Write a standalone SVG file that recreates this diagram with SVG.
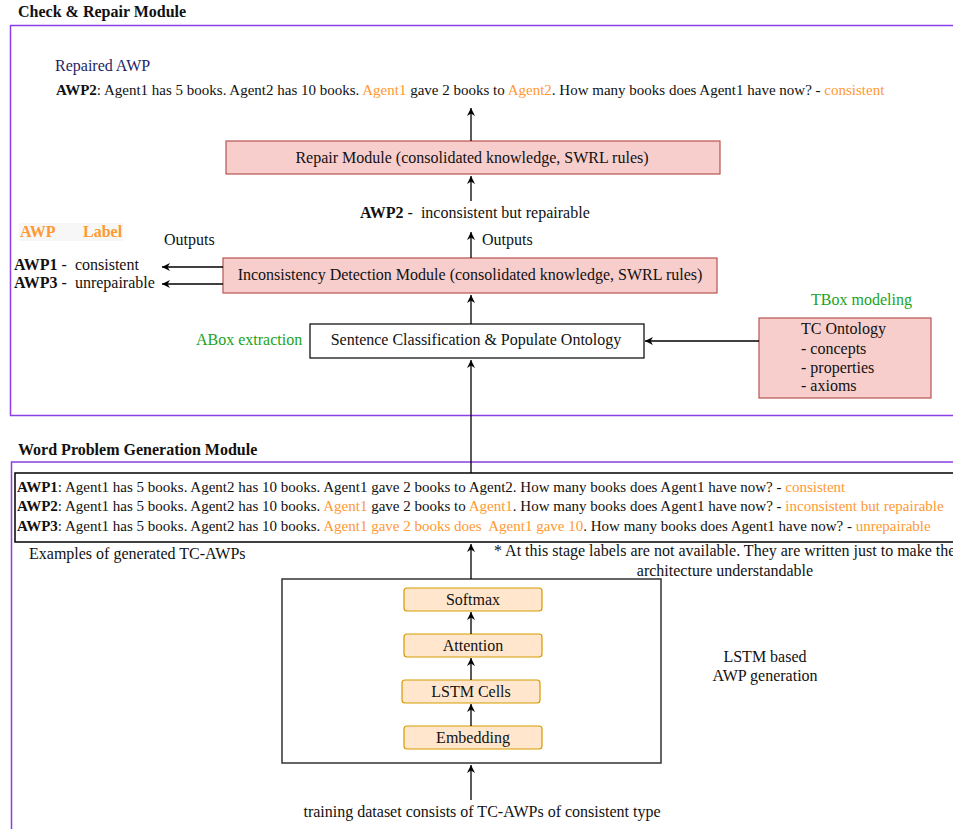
<svg xmlns="http://www.w3.org/2000/svg" width="953" height="829" viewBox="0 0 953 829">
<defs>
<marker id="arr" markerWidth="10" markerHeight="10" refX="9" refY="5" orient="auto" markerUnits="userSpaceOnUse">
<path d="M1,1 L9,5 L1,9 L3.5,5 Z" fill="#000"/>
</marker>
<style>
text{font-family:"Liberation Serif","Times New Roman",serif;font-size:16px;fill:#111}
.b{font-weight:bold}
.o{fill:#ff9933}
.g{fill:#1aa31a}
.t{font-size:16px;font-weight:bold}
.s{font-size:15px}
.pink{fill:#f8cecc;stroke:#b85450;stroke-width:1.2}
.orange{fill:#ffe6cc;stroke:#d79b00;stroke-width:1.2}
.frame{fill:none;stroke:#8b3fe6;stroke-width:1.5}
.c{stroke:#000;stroke-width:1.3;fill:none;marker-end:url(#arr)}
.m{text-anchor:middle}
</style>
</defs>

<g id="frames">
<text class="t" x="18" y="17">Check &amp; Repair Module</text>
<rect class="frame" x="10.5" y="25.5" width="960" height="390"/>
<text class="t" x="18" y="455">Word Problem Generation Module</text>
<rect class="frame" x="11.5" y="462" width="960" height="400"/>
</g>

<g id="repaired">
<text x="55" y="71" style="fill:#1f1f66">Repaired AWP</text>
<text x="56" y="95" class="s"><tspan class="b">AWP2</tspan>: Agent1 has 5 books. Agent2 has 10 books. <tspan class="o">Agent1</tspan> gave 2 books to <tspan class="o">Agent2</tspan>. How many books does Agent1 have now? - <tspan class="o">consistent</tspan></text>
</g>

<g id="repair">
<rect class="pink" x="226" y="141" width="494" height="33"/>
<text class="m" x="472" y="163">Repair Module (consolidated knowledge, SWRL rules)</text>
</g>

<g id="awp2label">
<text x="360" y="218"><tspan class="b">AWP2</tspan> -&#160; inconsistent but repairable</text>
<text x="482" y="245">Outputs</text>
</g>

<g id="detection">
<rect class="pink" x="223" y="258" width="494" height="35"/>
<text class="m" x="470" y="280">Inconsistency Detection Module (consolidated knowledge, SWRL rules)</text>
</g>

<g id="legend">
<rect x="19" y="223" width="104" height="18" fill="#f7f7f7"/>
<text class="b o" x="20" y="237">AWP</text>
<text class="b o" x="83" y="237">Label</text>
<text x="164" y="245">Outputs</text>
<text x="14" y="270"><tspan class="b">AWP1</tspan> -&#160; consistent</text>
<text x="14" y="288"><tspan class="b">AWP3</tspan> -&#160; unrepairable</text>
</g>

<g id="sentence">
<text class="g" x="196" y="345">ABox extraction</text>
<rect x="310" y="324" width="334" height="34" fill="#fff" stroke="#000" stroke-width="1.2"/>
<text class="m" x="476" y="345">Sentence Classification &amp; Populate Ontology</text>
</g>

<g id="ontology">
<text class="g" x="811" y="305">TBox modeling</text>
<rect class="pink" x="759" y="318" width="172" height="80"/>
<text x="801" y="334">TC Ontology</text>
<text x="801" y="354">- concepts</text>
<text x="801" y="373">- properties</text>
<text x="801" y="391">- axioms</text>
</g>

<g id="examples">
<rect x="15" y="473" width="960" height="69" fill="#fff" stroke="#000" stroke-width="1.5"/>
<text x="17" y="492" class="s"><tspan class="b">AWP1</tspan>: Agent1 has 5 books. Agent2 has 10 books. Agent1 gave 2 books to Agent2. How many books does Agent1 have now? - <tspan class="o">consistent</tspan></text>
<text x="17" y="511" class="s"><tspan class="b">AWP2</tspan>: Agent1 has 5 books. Agent2 has 10 books. <tspan class="o">Agent1</tspan> gave 2 books to <tspan class="o">Agent1</tspan>. How many books does Agent1 have now? - <tspan class="o">inconsistent but repairable</tspan></text>
<text x="17" y="531" class="s"><tspan class="b">AWP3</tspan>: Agent1 has 5 books. Agent2 has 10 books. <tspan class="o">Agent1 gave 2 books does&#160; Agent1 gave 10</tspan>. How many books does Agent1 have now? - <tspan class="o">unrepairable</tspan></text>
<text x="29" y="559">Examples of generated TC-AWPs</text>
<text x="494" y="556">* At this stage labels are not available. They are written just to make the</text>
<text class="m" x="725" y="576">architecture understandable</text>
</g>

<g id="lstm">
<rect x="282" y="579" width="379" height="184" fill="#fff" stroke="#333" stroke-width="1.5"/>
<text class="m" x="765" y="662">LSTM based</text>
<text class="m" x="765" y="681">AWP generation</text>
</g>
<g id="softmax"><rect class="orange" x="404" y="588" width="138" height="23" rx="3"/><text class="m" x="473" y="605">Softmax</text></g>
<g id="attention"><rect class="orange" x="404" y="634" width="138" height="23" rx="3"/><text class="m" x="473" y="651">Attention</text></g>
<g id="cells"><rect class="orange" x="402" y="680" width="138" height="23" rx="3"/><text class="m" x="471" y="697">LSTM Cells</text></g>
<g id="embedding"><rect class="orange" x="404" y="726" width="138" height="23" rx="3"/><text class="m" x="473" y="743">Embedding</text></g>

<g id="training">
<text class="m" x="482" y="817">training dataset consists of TC-AWPs of consistent type</text>
</g>

<g id="connectors">
<path class="c" d="M471,141 L471,108"/>
<path class="c" d="M471,201 L471,176"/>
<path class="c" d="M471,258 L471,232"/>
<path class="c" d="M471,324 L471,295"/>
<path class="c" d="M223,267 L162,267"/>
<path class="c" d="M223,284 L162,284"/>
<path class="c" d="M759,341 L645,341"/>
<path class="c" d="M471,473 L471,360"/>
<path class="c" d="M471,579 L471,544"/>
<path class="c" d="M471,634 L471,612"/>
<path class="c" d="M471,680 L471,658"/>
<path class="c" d="M471,726 L471,704"/>
<path class="c" d="M471,800 L471,765"/>
</g>
</svg>
